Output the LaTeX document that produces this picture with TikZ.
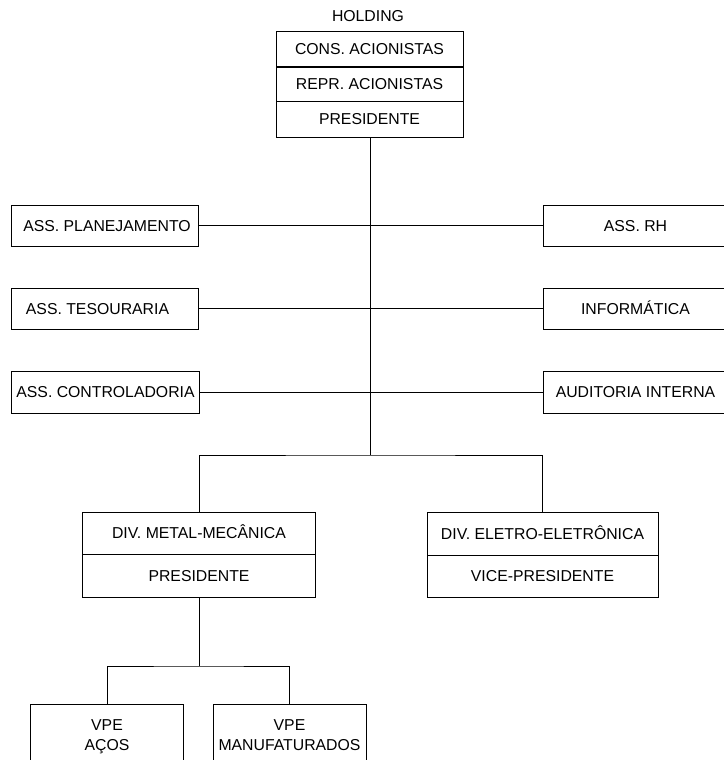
\documentclass[tikz,border=0pt]{standalone}
\usepackage{fontspec}
\setmainfont{Liberation Sans}
\begin{document}
\begin{tikzpicture}[x=1bp,y=-1bp,
  every node/.style={font=\fontsize{15.8bp}{20bp}\selectfont},
  box/.style={draw,line width=1bp,inner sep=0pt,align=center,text height=11bp,text depth=0pt},
  twoline/.style={box,text height=31bp},
  link/.style={draw,line width=1bp}]
\useasboundingbox (0,0) rectangle (724,760);

% Holding block: title and three stacked rows
\node[text height=11bp,text depth=0pt] (hold) at (368,16) {HOLDING};
\node[box,minimum width=187bp,minimum height=35bp] (cons) at (369.5,49.5) {CONS. ACIONISTAS};
\node[box,minimum width=187bp,minimum height=34bp] (repr) at (369.5,84) {REPR. ACIONISTAS};
\node[box,minimum width=187bp,minimum height=36bp] (pres) at (369.5,119) {PRESIDENTE};

% Staff boxes on the left
\node[box,minimum width=186bp,minimum height=41bp] (plan) at (105,225.5) {ASS. PLANEJAMENTO\hspace*{-4bp}};
\node[box,minimum width=186bp,minimum height=41bp] (tes) at (105,308.5) {ASS. TESOURARIA\hspace*{15bp}};
\node[box,minimum width=187bp,minimum height=42bp] (ctrl) at (105.5,392) {ASS. CONTROLADORIA};

% Staff boxes on the right
\node[box,minimum width=185bp,minimum height=41bp] (rh) at (635.5,225.5) {ASS. RH};
\node[box,minimum width=185bp,minimum height=41bp] (info) at (635.5,308.5) {INFORMÁTICA};
\node[box,minimum width=185bp,minimum height=42bp] (aud) at (635.5,392) {AUDITORIA INTERNA};

% Divisions
\node[box,minimum width=232bp,minimum height=42bp] (metal) at (199,533) {DIV. METAL-MECÂNICA};
\node[box,minimum width=232bp,minimum height=43bp] (mpres) at (199,575.5) {PRESIDENTE};
\node[box,minimum width=231bp,minimum height=43bp] (eletro) at (542.5,533.5) {DIV. ELETRO-ELETRÔNICA};
\node[box,minimum width=231bp,minimum height=42bp] (vice) at (542.5,576) {VICE-PRESIDENTE};

% Vice-presidencies under the metal-mechanical division
\node[twoline,minimum width=152bp,minimum height=62bp] (acos) at (107,735) {VPE\\AÇOS};
\node[twoline,minimum width=153bp,minimum height=62bp] (manu) at (289.5,735) {VPE\\MANUFATURADOS};

% Junction points
\coordinate (j1) at (370,455);
\coordinate (j2) at (199,666);

% Connectors
\draw[link] (pres.south -| j1) -- (j1);
\draw[link] (plan.east) -- (rh.west);
\draw[link] (tes.east) -- (info.west);
\draw[link] (ctrl.east) -- (aud.west);
\draw[link] (metal.north) |- (j1) -| (eletro.north);
\draw[link] (mpres.south) -- (j2);
\draw[link] (acos.north) |- (j2) -| (manu.north);
\end{tikzpicture}
\end{document}
